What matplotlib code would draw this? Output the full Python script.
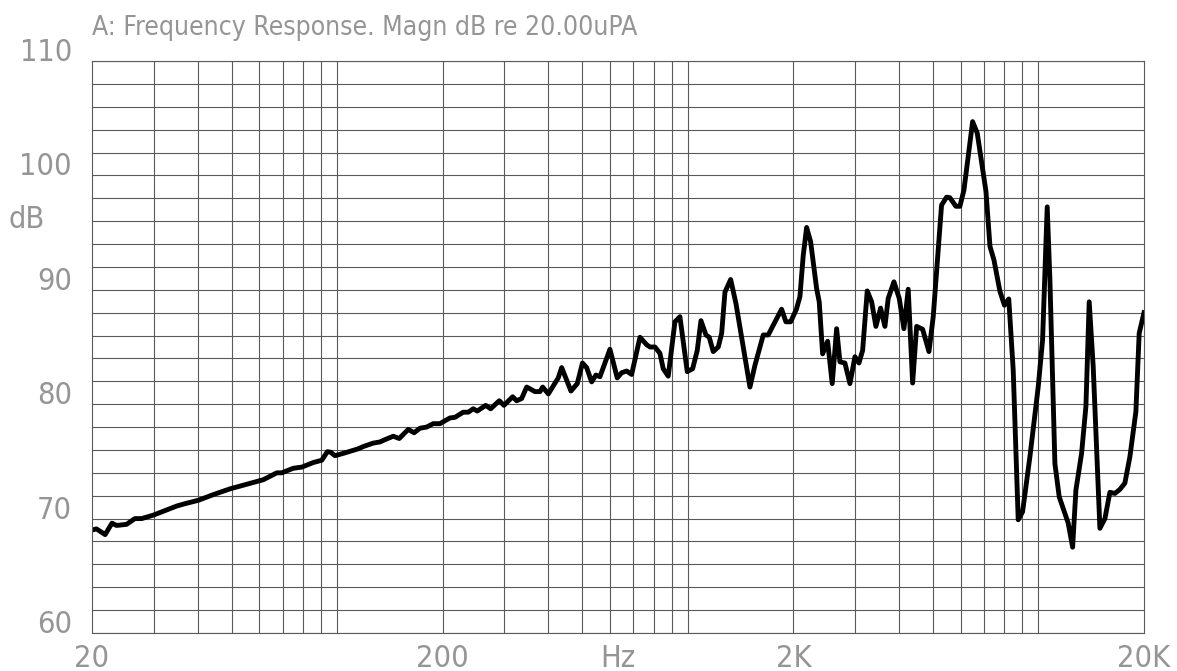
import numpy as np
import matplotlib.pyplot as plt

# frequency response (Hz, dB re 20uPa)
freq = [20.0, 20.6, 21.8, 22.8, 23.5, 25.1, 26.5, 27.7, 29.9, 34.9,
        36.8, 40.2, 44.4, 49.5, 55.2, 61.6, 67.3, 69.5, 75.0, 79.3,
        85.5, 90.4, 93.8, 95.9, 98.6, 104.1, 114.9, 118.8, 126.8, 132.5,
        136.9, 144.6, 150.4, 159.6, 165.7, 172.3, 180.0, 188.0, 196.5, 209.8,
        216.8, 228.9, 236.6, 244.5, 251.0, 265.3, 274.1, 290.0, 299.1, 316.7,
        325.1, 336.0, 347.2, 366.7, 378.9, 385.7, 400.2, 427.2, 436.9, 464.4,
        484.0, 500.8, 514.8, 531.9, 547.1, 561.7, 599.8, 629.3, 647.7, 669.3,
        691.7, 730.5, 763.3, 780.0, 806.0, 832.9, 851.1, 879.6, 919.2, 949.7,
        996.5, 1032.5, 1064.2, 1090.5, 1126.8, 1151.5, 1182.1, 1221.6, 1249.2, 1276.6,
        1325.3, 1372.2, 1439.5, 1504.2, 1554.3, 1641.4, 1696.0, 1752.7, 1851.8, 1905.0,
        1964.7, 2040.7, 2088.4, 2134.3, 2182.5, 2240.5, 2330.5, 2370.6, 2424.1, 2504.8,
        2581.7, 2657.6, 2715.9, 2806.3, 2900.2, 2997.3, 3077.0, 3152.3, 3249.1, 3344.3,
        3439.6, 3547.6, 3649.4, 3729.2, 3871.6, 4009.0, 4134.5, 4252.6, 4377.6, 4494.0,
        4674.5, 4872.3, 5011.6, 5293.0, 5471.0, 5590.8, 5815.4, 5970.3, 6129.8, 6490.8,
        6690.8, 7085.6, 7274.2, 7467.7, 7767.3, 7999.8, 8229.7, 8472.8, 8756.1, 9011.8,
        9454.0, 9984.0, 10275, 10593, 10783, 11142, 11462, 12160, 12516, 12790,
        13275, 13657, 13956, 14327, 14972, 15473, 15988, 16520, 17071, 17639,
        18230, 18962, 19377, 20000]
magn = [69.0, 69.1, 68.6, 69.6, 69.4, 69.5, 70.0, 70.0, 70.3, 71.1,
        71.3, 71.6, 72.1, 72.6, 73.0, 73.4, 74.0, 74.0, 74.4, 74.5,
        74.9, 75.1, 75.85, 75.8, 75.5, 75.7, 76.1, 76.3, 76.6, 76.7,
        76.9, 77.2, 77.0, 77.8, 77.5, 77.9, 78.0, 78.3, 78.3, 78.8,
        78.85, 79.3, 79.3, 79.6, 79.4, 79.9, 79.6, 80.3, 79.9, 80.65,
        80.3, 80.5, 81.5, 81.1, 81.1, 81.5, 80.9, 82.3, 83.2, 81.15,
        81.8, 83.6, 83.2, 81.95, 82.55, 82.4, 84.8, 82.3, 82.75, 82.9,
        82.6, 85.85, 85.2, 85.0, 85.0, 84.45, 83.1, 82.45, 87.2, 87.65,
        82.85, 83.1, 84.7, 87.3, 86.05, 85.85, 84.6, 85.0, 86.2, 89.8,
        90.9, 88.8, 85.0, 81.5, 83.4, 86.05, 86.05, 86.9, 88.3, 87.2,
        87.2, 88.3, 89.4, 93.0, 95.45, 94.2, 90.1, 88.95, 84.4, 85.5,
        81.8, 86.6, 83.7, 83.6, 81.8, 84.15, 83.6, 84.7, 89.9, 88.95,
        86.8, 88.4, 86.8, 89.25, 90.7, 89.25, 86.6, 90.05, 81.85, 86.8,
        86.55, 84.6, 87.65, 97.4, 98.1, 98.05, 97.3, 97.3, 98.7, 104.7,
        103.7, 98.6, 93.8, 92.6, 89.85, 88.65, 89.2, 83.0, 69.9, 70.6,
        75.4, 81.5, 85.6, 97.25, 90.85, 74.8, 71.9, 69.6, 67.5, 72.5,
        75.7, 79.8, 88.95, 83.3, 69.15, 70.0, 72.3, 72.2, 72.55, 73.1,
        75.4, 79.35, 86.2, 88.0]

x_ticks = [20, 200, 2000, 20000]
x_labels = ['20', '200', '2K', '20K']
y_ticks = [60, 70, 80, 90, 100, 110]

plt.rcParams['font.family'] = ['DejaVu Sans']
plt.rcParams['font.stretch'] = 'condensed'
plt.rcParams['font.weight'] = 'light'
txt_col = '#959595'
grid_col = '#5a5a5a'

fig = plt.figure(figsize=(11.77, 6.71), dpi=100)
ax = fig.add_axes([92/1177, 38/671, 1052/1177, 572/671])
ax.plot(freq, magn, color='black', lw=3.5)
ax.set_xscale('log')
ax.set_xlim(20, 20000)
ax.set_ylim(60, 110)

# grid: every 2 dB, log lines 30..100, 200..1000, ...
vlines = [m * 10**e for e in range(1, 5) for m in range(1, 10) if 20 < m * 10**e < 20000]
ax.set_xticks(vlines, minor=False)
ax.set_xticks([], minor=True)
ax.set_yticks(np.arange(60, 111, 2))
ax.tick_params(length=0, labelbottom=False, labelleft=False)
ax.grid(True, color=grid_col, lw=0.8)
for s in ax.spines.values():
    s.set_color(grid_col)
    s.set_linewidth(0.8)

for y in y_ticks:
    ax.annotate(str(y), xy=(0, y), xycoords=('axes fraction', 'data'),
                xytext=(-20, 0), textcoords='offset pixels',
                ha='right', va='baseline', fontsize=22, color=txt_col)
for xv, lab in zip(x_ticks, x_labels):
    ax.annotate(lab, xy=(xv, 0), xycoords=('data', 'axes fraction'),
                xytext=(0, -34), textcoords='offset pixels',
                ha='center', va='baseline', fontsize=22, color=txt_col)
ax.annotate('Hz', xy=(632, 0), xycoords=('data', 'axes fraction'),
            xytext=(0, -34), textcoords='offset pixels',
            ha='center', va='baseline', fontsize=22, color=txt_col)

fig.text(8/1177, 1 - 228/671, 'dB', ha='left', va='baseline', fontsize=22, color=txt_col)
fig.text(92/1177, 1 - 35/671, 'A: Frequency Response. Magn dB re 20.00uPA',
         ha='left', va='baseline', fontsize=19, color=txt_col)

fig.savefig('out.png', dpi=100)
